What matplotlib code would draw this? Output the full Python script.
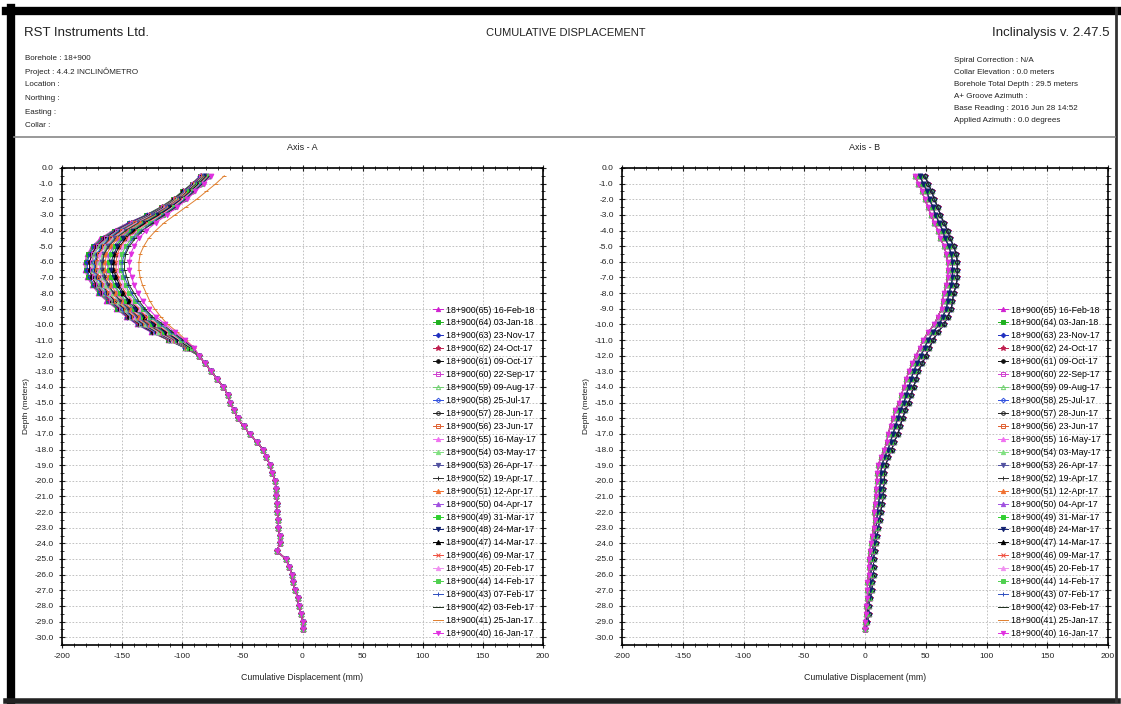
# Inclinometer cumulative displacement report (Axis A / Axis B)
import numpy as np
import matplotlib
matplotlib.use('Agg')
import matplotlib.pyplot as plt
from matplotlib.ticker import MultipleLocator, FormatStrFormatter
from matplotlib.lines import Line2D

plt.rcParams['font.family'] = ['Liberation Sans', 'DejaVu Sans']
plt.rcParams['axes.unicode_minus'] = False

W = 1121.; H = 704.

# depth of each reading (m)
DEPTH = [-0.5, -1.0, -1.5, -2.0, -2.5, -3.0, -3.5, -4.0, -4.5, -5.0, -5.5, -6.0, -6.5, -7.0, -7.5,
         -8.0, -8.5, -9.0, -9.5, -10.0, -10.5, -11.0, -11.5, -12.0, -12.5, -13.0, -13.5, -14.0, -14.5,
         -15.0, -15.5, -16.0, -16.5, -17.0, -17.5, -18.0, -18.5, -19.0, -19.5, -20.0, -20.5, -21.0,
         -21.5, -22.0, -22.5, -23.0, -23.5, -24.0, -24.5, -25.0, -25.5, -26.0, -26.5, -27.0, -27.5,
         -28.0, -28.5, -29.0, -29.5]

LABELS = ['18+900(65) 16-Feb-18', '18+900(64) 03-Jan-18', '18+900(63) 23-Nov-17',
          '18+900(62) 24-Oct-17', '18+900(61) 09-Oct-17', '18+900(60) 22-Sep-17',
          '18+900(59) 09-Aug-17', '18+900(58) 25-Jul-17', '18+900(57) 28-Jun-17',
          '18+900(56) 23-Jun-17', '18+900(55) 16-May-17', '18+900(54) 03-May-17',
          '18+900(53) 26-Apr-17', '18+900(52) 19-Apr-17', '18+900(51) 12-Apr-17',
          '18+900(50) 04-Apr-17', '18+900(49) 31-Mar-17', '18+900(48) 24-Mar-17',
          '18+900(47) 14-Mar-17', '18+900(46) 09-Mar-17', '18+900(45) 20-Feb-17',
          '18+900(44) 14-Feb-17', '18+900(43) 07-Feb-17', '18+900(42) 03-Feb-17',
          '18+900(41) 25-Jan-17', '18+900(40) 16-Jan-17']

COLORS = ['#d020d0', '#20b020', '#2030c0', '#c02050', '#101010', '#d040d0', '#70d070',
          '#3050e0', '#202020', '#e06030', '#f070f0', '#80e080', '#5050a0', '#303030',
          '#f07030', '#a050e0', '#30d030', '#102070', '#000000', '#f05040', '#f090f0',
          '#50d050', '#3050c0', '#203020', '#e08030', '#e030e0']
MARKERS = ['^', 's', 'D', '*', 'o', 's', '^', 'D', 'o', 's', '^', '^', 'v', '+',
           '^', '^', 's', 'v', '^', 'x', '^', 's', '+', '_', '_', 'v']
OPEN = [False, False, False, False, False, True, True, True, True, True, False, False, False,
        False, False, False, False, False, False, False, False, False, False, False, False, False]

# Axis A, depth -0.5 .. -11.5 (mm), one list per reading
a65 = [-85, -92, -100, -108, -118, -130, -145, -158, -168, -175, -179, -181, -181, -179, -175, -170, -163, -155, -147, -138, -126, -112, -98]
a64 = [-85, -92, -100, -108, -118, -130, -144, -157, -167, -174, -178, -180, -180, -178, -174, -169, -162, -154, -146, -137, -125, -112, -98]
a63 = [-85, -91, -99, -107, -117, -129, -144, -156, -166, -173, -177, -179, -179, -177, -173, -168, -161, -153, -146, -137, -125, -111, -98]
a62 = [-84, -91, -99, -107, -117, -128, -143, -155, -165, -172, -175, -177, -177, -175, -172, -167, -160, -152, -145, -136, -124, -111, -97]
a61 = [-84, -91, -99, -107, -116, -128, -142, -155, -164, -171, -175, -177, -177, -175, -171, -166, -159, -152, -144, -135, -124, -110, -97]
a60 = [-84, -91, -98, -106, -116, -127, -142, -154, -163, -170, -174, -175, -175, -173, -170, -165, -159, -151, -143, -134, -123, -110, -97]
a59 = [-83, -90, -98, -106, -116, -127, -141, -153, -162, -169, -173, -174, -174, -172, -169, -164, -158, -150, -143, -134, -122, -110, -97]
a58 = [-83, -90, -98, -105, -115, -126, -140, -152, -161, -167, -171, -173, -173, -171, -167, -163, -156, -149, -142, -133, -122, -109, -96]
a57 = [-83, -90, -97, -105, -115, -126, -139, -151, -160, -166, -170, -172, -172, -170, -166, -162, -156, -148, -141, -132, -121, -109, -96]
a56 = [-83, -89, -97, -105, -114, -125, -139, -150, -159, -165, -169, -171, -171, -169, -165, -161, -155, -147, -140, -131, -120, -108, -96]
a55 = [-82, -89, -97, -104, -114, -125, -138, -149, -158, -164, -168, -169, -169, -167, -164, -159, -153, -146, -139, -130, -120, -108, -95]
a54 = [-82, -89, -96, -104, -113, -124, -137, -148, -157, -163, -166, -168, -168, -166, -163, -158, -153, -146, -138, -130, -119, -107, -95]
a53 = [-82, -88, -96, -103, -113, -124, -136, -147, -156, -162, -165, -167, -167, -165, -162, -157, -152, -145, -138, -129, -118, -107, -95]
a52 = [-81, -88, -96, -103, -112, -123, -136, -147, -155, -161, -165, -166, -166, -164, -161, -157, -151, -144, -137, -128, -118, -106, -95]
a51 = [-81, -87, -95, -103, -112, -122, -135, -145, -154, -159, -163, -164, -164, -162, -159, -155, -149, -143, -136, -127, -117, -106, -94]
a50 = [-80, -87, -94, -102, -111, -121, -133, -144, -152, -157, -161, -162, -162, -160, -157, -153, -148, -141, -134, -126, -116, -105, -94]
a49 = [-80, -87, -94, -101, -110, -121, -132, -143, -150, -156, -159, -161, -161, -159, -156, -152, -147, -140, -133, -125, -115, -104, -94]
a48 = [-80, -86, -93, -101, -110, -120, -131, -141, -149, -154, -157, -159, -159, -157, -154, -150, -145, -139, -132, -124, -114, -104, -93]
a47 = [-79, -86, -93, -100, -109, -119, -130, -140, -147, -152, -156, -157, -157, -155, -152, -149, -144, -137, -131, -122, -113, -103, -93]
a46 = [-79, -85, -92, -100, -108, -118, -129, -138, -146, -151, -154, -155, -155, -153, -151, -147, -142, -136, -130, -121, -112, -102, -92]
a45 = [-78, -85, -92, -99, -108, -117, -128, -137, -144, -149, -152, -153, -153, -151, -149, -145, -141, -135, -128, -120, -111, -102, -92]
a44 = [-78, -84, -91, -98, -107, -116, -127, -136, -142, -147, -150, -151, -151, -149, -147, -144, -139, -133, -127, -119, -110, -101, -92]
a43 = [-77, -84, -91, -98, -106, -116, -125, -134, -141, -145, -148, -150, -150, -148, -145, -142, -138, -132, -126, -118, -109, -100, -91]
a42 = [-77, -83, -90, -97, -105, -115, -124, -133, -139, -144, -147, -148, -148, -146, -144, -140, -136, -131, -125, -116, -108, -99, -91]
a41 = [-65, -72, -80, -88, -97, -106, -115, -122, -128, -132, -135, -136, -136, -135, -133, -130, -127, -123, -118, -112, -104, -97, -90]
a40 = [-76, -82, -89, -96, -104, -113, -122, -130, -136, -140, -143, -144, -144, -142, -140, -137, -133, -128, -122, -114, -106, -98, -90]
# Axis A, depth -12.0 .. -29.5 (all readings coincide here)
a_lower = [-86, -81, -76, -71, -66, -62, -60, -57, -54, -49, -44, -38, -33, -30, -27, -25, -23, -22,
           -22, -21, -21, -20, -20, -19, -19, -21, -14, -11, -9, -8, -6, -4, -3, -1, 0, 0]

# Axis B profiles (mm), depth -0.5 .. -29.5
b_late = [49, 52, 55, 57, 60, 62, 65, 68, 70, 73, 75, 76, 76, 76, 75, 73, 72, 71, 68, 65,
          60, 56, 53, 50, 47, 44, 42, 40, 38, 36, 33, 31, 29, 27, 24, 22, 19, 17, 16, 16,
          15, 15, 14, 13, 12, 11, 10, 9, 8, 7, 7, 7, 6, 6, 4, 3, 3, 2, 0]
b_mid = [45, 48, 51, 53, 56, 58, 61, 64, 66, 69, 71, 72, 72, 72, 71, 69, 68, 67, 64, 61,
         56, 52, 49, 46, 43, 40, 38, 36, 34, 32, 29, 27, 25, 23, 21, 19, 16, 14, 13, 13,
         12, 12, 11, 10, 10, 9, 8, 7, 6, 5, 5, 5, 4, 4, 3, 2, 2, 1, 0]
b_early = [41, 44, 47, 49, 52, 54, 57, 60, 62, 65, 67, 68, 68, 68, 67, 65, 64, 63, 60, 57,
           52, 48, 45, 42, 39, 36, 34, 32, 30, 28, 25, 23, 21, 19, 18, 16, 13, 11, 10, 10,
           9, 9, 8, 7, 8, 7, 6, 5, 4, 3, 3, 3, 2, 2, 2, 1, 1, 0, 0]

upperA = [a65, a64, a63, a62, a61, a60, a59, a58, a57, a56, a55, a54, a53, a52, a51, a50,
          a49, a48, a47, a46, a45, a44, a43, a42, a41, a40]
profB = [b_late]*9 + [b_mid]*9 + [b_early]*8

# marker size tweaks so the bulky shapes don't swamp the band
msz = {'D': 2.6, 'o': 2.9, '*': 4.2, 's': 2.9}

fig = plt.figure(figsize=(W/100., H/100.), dpi=100)

def fx(x): return x/W
def fy(y): return 1.-y/H

# frame and header
fig.add_artist(Line2D([fx(6), fx(1118)], [fy(11), fy(11)], color='k', lw=6))
fig.add_artist(Line2D([fx(11), fx(11)], [fy(8), fy(701)], color='k', lw=6))
fig.add_artist(Line2D([fx(6), fx(1118)], [fy(701), fy(701)], color='#222222', lw=4))
fig.add_artist(Line2D([fx(1116), fx(1116)], [fy(8), fy(701)], color='#333333', lw=2))
fig.add_artist(Line2D([fx(14), fx(1115)], [fy(137), fy(137)], color='#888888', lw=1.2))

fig.text(fx(24), fy(33), 'RST Instruments Ltd.', fontsize=9.5, va='center', ha='left', color='#222222')
fig.text(fx(566), fy(33), 'CUMULATIVE DISPLACEMENT', fontsize=8, va='center', ha='center', color='#222222')
fig.text(fx(1110), fy(33), 'Inclinalysis v. 2.47.5', fontsize=9.5, va='center', ha='right', color='#222222')
left_info = ['Borehole : 18+900', 'Project : 4.4.2 INCLINÔMETRO', 'Location :', 'Northing :',
             'Easting :', 'Collar :']
for i, s in enumerate(left_info):
  fig.text(fx(25), fy(58+13.5*i), s, fontsize=5.8, va='center', ha='left', color='#222222')
right_info = ['Spiral Correction : N/A', 'Collar Elevation : 0.0 meters',
              'Borehole Total Depth : 29.5 meters', 'A+ Groove Azimuth :',
              'Base Reading : 2016 Jun 28 14:52', 'Applied Azimuth : 0.0 degrees']
for i, s in enumerate(right_info):
  fig.text(fx(954), fy(61+11.8*i), s, fontsize=5.8, va='center', ha='left', color='#222222')

axA = fig.add_axes([fx(62), fy(645), fx(543)-fx(62), fy(168)-fy(645)])
axB = fig.add_axes([fx(622), fy(645), fx(1108)-fx(622), fy(168)-fy(645)])

for ax, name in [(axA, 'A'), (axB, 'B')]:
  for k in range(len(LABELS)):
    if name == 'A':
      xs = upperA[k] + a_lower
    else:
      xs = profB[k]
    mfc = 'none' if OPEN[k] else COLORS[k]
    ax.plot(xs, DEPTH, color=COLORS[k], lw=0.7, marker=MARKERS[k], ms=msz.get(MARKERS[k], 3.4),
            mfc=mfc, mec=COLORS[k], mew=0.7, label=LABELS[k])
  ax.set_xlim(-200, 200)
  ax.set_ylim(-30.5, 0)
  ax.xaxis.set_major_locator(MultipleLocator(50))
  ax.xaxis.set_minor_locator(MultipleLocator(10))
  ax.yaxis.set_major_locator(MultipleLocator(1))
  ax.yaxis.set_minor_locator(MultipleLocator(0.5))
  ax.yaxis.set_major_formatter(FormatStrFormatter('%.1f'))
  ax.tick_params(which='both', direction='inout', top=True, right=True, labelsize=6, colors='#222222')
  ax.tick_params(which='major', length=5, width=0.8)
  ax.tick_params(which='minor', length=3, width=0.6)
  for sp in ax.spines.values():
    sp.set_linewidth(1.2)
  ax.grid(True, which='major', color='#b8b8b8', ls=(0, (2, 2)), lw=0.6)
  ax.set_axisbelow(True)
  ax.set_title('Axis - %s' % name, fontsize=6.5, pad=13, color='#222222')
  ax.set_xlabel('Cumulative Displacement (mm)', fontsize=6.3, labelpad=9, color='#222222')
  ax.set_ylabel('Depth (meters)', fontsize=6, labelpad=3, color='#222222')
  ax.legend(loc='lower right', bbox_to_anchor=(1.0, 0.0), frameon=False, fontsize=6.3,
            handlelength=1.1, handletextpad=0.35, labelspacing=0.45, borderaxespad=0.4,
            markerscale=0.9)

plt.savefig('out.png', dpi=100)
